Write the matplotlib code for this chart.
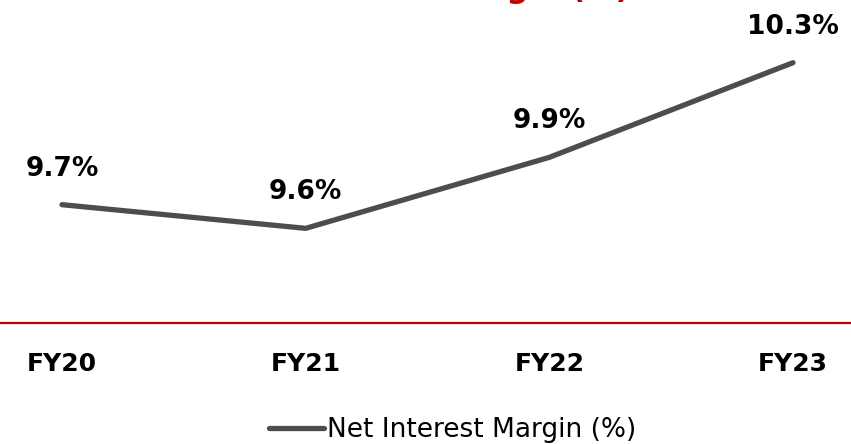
import matplotlib
matplotlib.use('Agg')
import matplotlib.pyplot as plt

years = ['FY20', 'FY21', 'FY22', 'FY23']
nim = [9.7, 9.6, 9.9, 10.3]
labels = ['9.7%', '9.6%', '9.9%', '10.3%']

W, H = 851, 444
fig = plt.figure(figsize=(W / 100, H / 100), dpi=100)
# axes bottom sits on the red line (y=323 px), top at the figure edge
ax = fig.add_axes([0, (H - 323) / H, 1, 323 / H])

x = list(range(len(years)))
ax.plot(x, nim, color='#4d4d4d', lw=3.8, solid_capstyle='round',
        label='Net Interest Margin (%)')

for xi, v, t in zip(x, nim, labels):
    ax.annotate(t, (xi, v), xytext=(0, 26), textcoords='offset points',
                ha='center', va='center', fontsize=19, fontweight='bold',
                family='DejaVu Sans', color='black')

unit = (793 - 62) / 3
ax.set_xlim(-62 / unit, 3 + (W - 793) / unit)
ax.set_ylim(9.2, 9.7 + 205 / 237)

for s in ['top', 'left', 'right']:
    ax.spines[s].set_visible(False)
ax.spines['bottom'].set_color('#c00000')
ax.spines['bottom'].set_linewidth(1.6)
ax.set_yticks([])
ax.set_xticks(x)
ax.set_xticklabels(years, fontsize=18, fontweight='bold',
                   family=['Liberation Sans Narrow', 'DejaVu Sans'])
ax.tick_params(axis='x', length=0, pad=21)

ax.legend(loc='center', bbox_to_anchor=(0.532, -(430 - 323) / 323),
          frameon=False, handlelength=2.1, handletextpad=0.1,
          prop={'family': 'DejaVu Sans', 'size': 19})

# title mostly cropped off at the top of the picture
fig.text(630 / W, 1 + 2.5 / H, 'Net Interest Margin (%)', ha='right', va='baseline',
         fontsize=22, fontweight='bold', color='#c00000', family='DejaVu Sans')

fig.savefig('out.png', dpi=100)
